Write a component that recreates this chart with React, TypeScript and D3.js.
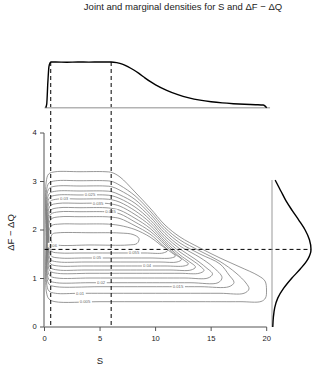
import { useEffect, useRef } from "react";
import * as d3 from "d3";

// marginal density of S (top panel), relative to its plateau
const topS = [0.1, 0.2, 0.3, 0.4, 0.5, 0.6, 1, 2, 3, 4, 5, 6, 6.5, 7, 7.5, 8, 8.5, 9, 9.5, 10, 11, 12, 13, 14, 15, 16, 17, 18, 19, 19.7, 20];
const topDensity = [0, 0.08, 0.55, 0.9, 0.98, 1, 1, 0.995, 1, 0.997, 1, 1, 0.985, 0.955, 0.9, 0.83, 0.75, 0.66, 0.575, 0.5, 0.38, 0.285, 0.215, 0.165, 0.13, 0.105, 0.088, 0.075, 0.066, 0.058, 0];

// marginal density of dF - dQ (right panel), relative to its peak
const rightY = [0, 0.2, 0.4, 0.6, 0.8, 1.0, 1.2, 1.4, 1.6, 1.8, 2.0, 2.2, 2.4, 2.6, 2.8, 3.0, 3.03];
const rightDensity = [0.02, 0.035, 0.07, 0.15, 0.3, 0.5, 0.73, 0.92, 1.0, 0.96, 0.85, 0.69, 0.52, 0.36, 0.23, 0.1, 0.08];

const xTicks = [0, 5, 10, 15, 20];
const yTicks = [0, 1, 2, 3, 4];

const markS = [0.56, 6];
const markY = 1.6;

// contour outlines [S, dF - dQ]
const contour005 = [[0.378, 3.155], [0.945, 3.2], [3.195, 3.202], [5.445, 3.202], [6.076, 3.184], [6.796, 3.093], [8.146, 2.784], [9.496, 2.454], [10.846, 2.103], [12.196, 1.856], [13.996, 1.629], [15.797, 1.423], [17.597, 1.237], [19.217, 1.062], [19.847, 0.948], [19.982, 0.763], [19.892, 0.598], [19.487, 0.526], [17.597, 0.522], [13.996, 0.522], [9.496, 0.522], [4.995, 0.522], [0.945, 0.522], [0.405, 0.577], [0.171, 0.722], [0.135, 1.794], [0.153, 2.99]];
const contour010 = [[0.405, 2.969], [0.99, 3.014], [3.195, 3.016], [5.445, 3.016], [6.076, 3.0], [6.796, 2.921], [8.146, 2.706], [9.496, 2.394], [10.846, 2.045], [12.196, 1.794], [13.996, 1.567], [15.797, 1.351], [17.237, 1.113], [18.137, 0.907], [18.407, 0.784], [17.957, 0.695], [15.797, 0.695], [12.196, 0.695], [7.696, 0.695], [3.195, 0.695], [0.99, 0.695], [0.405, 0.742], [0.189, 0.907], [0.162, 1.856], [0.18, 2.804]];
const contour015 = [[0.432, 2.86], [1.035, 2.905], [3.195, 2.907], [5.445, 2.907], [6.076, 2.891], [6.796, 2.819], [8.146, 2.629], [9.496, 2.334], [10.846, 1.988], [12.196, 1.732], [13.996, 1.505], [15.797, 1.299], [16.607, 1.072], [17.057, 0.918], [16.607, 0.831], [13.996, 0.831], [9.496, 0.831], [4.995, 0.831], [1.035, 0.831], [0.432, 0.876], [0.216, 1.031], [0.189, 1.876], [0.207, 2.701]];
const contour020 = [[0.459, 2.757], [1.08, 2.802], [3.195, 2.804], [5.445, 2.804], [6.076, 2.788], [6.796, 2.723], [8.146, 2.552], [9.496, 2.274], [10.846, 1.93], [12.196, 1.67], [13.996, 1.433], [15.167, 1.237], [15.977, 1.021], [15.617, 0.913], [13.096, 0.913], [8.596, 0.913], [4.095, 0.913], [1.08, 0.913], [0.459, 0.959], [0.243, 1.113], [0.216, 1.856], [0.234, 2.598]];
const contour025 = [[0.486, 2.674], [1.125, 2.72], [3.195, 2.722], [5.445, 2.722], [6.076, 2.705], [6.796, 2.647], [8.146, 2.474], [9.496, 2.214], [10.846, 1.872], [12.196, 1.608], [13.546, 1.402], [14.536, 1.227], [15.122, 1.093], [14.716, 1.01], [12.646, 1.01], [8.146, 1.01], [4.095, 1.01], [1.125, 1.01], [0.486, 1.056], [0.27, 1.216], [0.243, 1.856], [0.261, 2.515]];
const contour030 = [[0.513, 2.592], [1.17, 2.637], [3.195, 2.639], [5.445, 2.639], [6.076, 2.623], [6.796, 2.572], [8.146, 2.397], [9.496, 2.155], [10.846, 1.819], [12.196, 1.546], [13.276, 1.381], [13.996, 1.258], [14.356, 1.165], [13.906, 1.107], [12.196, 1.107], [7.696, 1.107], [4.095, 1.107], [1.17, 1.107], [0.513, 1.153], [0.297, 1.309], [0.27, 1.856], [0.288, 2.433]];
const contour035 = [[0.54, 2.503], [1.215, 2.548], [3.195, 2.551], [5.445, 2.551], [6.076, 2.534], [6.796, 2.491], [8.146, 2.32], [9.496, 2.095], [10.846, 1.769], [12.196, 1.485], [13.006, 1.351], [13.591, 1.237], [13.186, 1.175], [11.296, 1.175], [7.246, 1.175], [3.645, 1.175], [1.215, 1.175], [0.54, 1.221], [0.324, 1.371], [0.297, 1.856], [0.315, 2.351]];
const contour040 = [[0.567, 2.412], [1.26, 2.458], [3.195, 2.46], [5.445, 2.46], [6.076, 2.445], [6.796, 2.407], [8.146, 2.242], [9.496, 2.035], [10.846, 1.728], [12.016, 1.474], [12.601, 1.371], [12.961, 1.299], [12.556, 1.258], [10.846, 1.258], [6.796, 1.258], [3.645, 1.258], [1.26, 1.258], [0.567, 1.299], [0.351, 1.443], [0.324, 1.856], [0.342, 2.278]];
const contour045 = [[0.594, 2.33], [1.305, 2.375], [3.195, 2.377], [5.445, 2.377], [6.076, 2.365], [6.796, 2.332], [8.146, 2.165], [9.496, 1.975], [10.846, 1.691], [11.656, 1.515], [12.331, 1.392], [11.926, 1.34], [10.396, 1.34], [6.346, 1.34], [3.645, 1.34], [1.305, 1.34], [0.594, 1.381], [0.378, 1.515], [0.351, 1.856], [0.369, 2.206]];
const contour050 = [[0.621, 2.231], [1.35, 2.272], [3.195, 2.274], [5.445, 2.274], [6.076, 2.264], [6.796, 2.236], [8.146, 2.088], [9.496, 1.915], [10.666, 1.68], [11.296, 1.557], [11.791, 1.464], [11.386, 1.423], [9.496, 1.423], [6.346, 1.423], [3.645, 1.423], [1.35, 1.423], [0.621, 1.46], [0.405, 1.577], [0.378, 1.856], [0.396, 2.124]];
const contour055 = [[0.648, 2.093], [1.395, 2.123], [3.195, 2.124], [5.445, 2.124], [6.076, 2.115], [6.796, 2.093], [8.146, 2.01], [9.496, 1.856], [10.396, 1.701], [11.071, 1.577], [10.666, 1.526], [9.046, 1.526], [5.896, 1.526], [3.195, 1.526], [1.395, 1.526], [0.648, 1.557], [0.432, 1.67], [0.405, 1.835], [0.423, 2.0]];
const contour060 = [[0.72, 1.918], [1.215, 1.942], [4.095, 1.944], [6.796, 1.938], [7.966, 1.907], [8.506, 1.825], [8.326, 1.722], [7.516, 1.691], [4.095, 1.691], [1.215, 1.687], [0.72, 1.722], [0.567, 1.825]];

const contourLines = [contour005, contour010, contour015, contour020, contour025, contour030, contour035, contour040, contour045, contour050, contour055, contour060];

// contour labels as they sit on the lines
const labelText = ["0.005", "0.01", "0.015", "0.02", "0.04", "0.05", "0.055", "0.06", "0.025", "0.03", "0.035", "0.045"];
const labelS = [3.645, 3.195, 12.016, 5.085, 9.226, 4.725, 8.056, 0.76, 4.095, 1.755, 4.815, 5.94];
const labelY = [0.522, 0.695, 0.831, 0.913, 1.258, 1.423, 1.526, 1.688, 2.722, 2.639, 2.551, 2.377];

const FONT = "'Liberation Sans', Arial, Helvetica, sans-serif";

export default function App() {
  const ref = useRef<HTMLDivElement>(null);

  useEffect(() => {
    document.body.style.margin = "0";
    const container = d3.select(ref.current);
    container.selectAll("*").remove();

    const width = 320;
    const height = 367;

    const svg = container
      .append("svg")
      .attr("width", width)
      .attr("height", height)
      .style("display", "block")
      .style("font-family", FONT);

    svg.append("rect").attr("width", width).attr("height", height).attr("fill", "#fff");

    const x = d3.scaleLinear().domain([0, 20]).range([44.5, 266.7]);
    const y = d3.scaleLinear().domain([0, 4]).range([327, 133]);
    const topY = d3.scaleLinear().domain([0, 1]).range([107.7, 62]);
    const rightX = d3.scaleLinear().domain([0, 1]).range([272, 311]);

    // contours
    const contour = d3
      .line<number[]>()
      .x((d) => x(d[0]))
      .y((d) => y(d[1]))
      .curve(d3.curveCatmullRomClosed.alpha(0.5));

    svg
      .append("g")
      .selectAll("path")
      .data(contourLines)
      .join("path")
      .attr("fill", "none")
      .attr("stroke", "#7d7d7d")
      .attr("stroke-width", 0.8)
      .attr("d", (d) => contour(d));

    // contour labels with a gap in the line
    const labels = svg.append("g");
    labelText.forEach((t, i) => {
      const g = labels.append("g");
      const txt = g
        .append("text")
        .attr("x", x(labelS[i]))
        .attr("y", y(labelY[i]))
        .attr("dy", "0.35em")
        .attr("text-anchor", "middle")
        .attr("fill", "#666")
        .style("font-size", "4.2px")
        .text(t);
      const bb = (txt.node() as SVGTextElement).getBBox();
      g.insert("rect", "text")
        .attr("x", bb.x - 1)
        .attr("y", y(labelY[i]) - 2.3)
        .attr("width", bb.width + 2)
        .attr("height", 4.6)
        .attr("fill", "#fff");
    });

    // dashed reference lines
    svg
      .append("g")
      .selectAll("line")
      .data(markS)
      .join("line")
      .attr("x1", (d) => x(d))
      .attr("x2", (d) => x(d))
      .attr("y1", topY(1))
      .attr("y2", y(0))
      .attr("stroke", "#000")
      .attr("stroke-width", 1)
      .attr("stroke-dasharray", "4,3");

    svg
      .append("line")
      .attr("x1", x(0))
      .attr("x2", rightX(1))
      .attr("y1", y(markY))
      .attr("y2", y(markY))
      .attr("stroke", "#000")
      .attr("stroke-width", 1)
      .attr("stroke-dasharray", "4,3");

    // axes
    const fmt = d3.format("d");
    const xAxis = svg
      .append("g")
      .attr("transform", `translate(0,${y(0)})`)
      .call(d3.axisBottom(x).tickValues(xTicks).tickFormat(fmt).tickSize(4).tickSizeOuter(0).tickPadding(4.5).offset(0));
    const yAxis = svg
      .append("g")
      .attr("transform", `translate(${x(0) - 0.5},0)`)
      .call(d3.axisLeft(y).tickValues(yTicks).tickFormat(fmt).tickSize(4).tickSizeOuter(0).tickPadding(3.3).offset(0));
    [xAxis, yAxis].forEach((a) => {
      a.select(".domain").attr("stroke", "#555");
      a.selectAll(".tick line").attr("stroke", "#555");
      a.selectAll(".tick text")
        .attr("fill", "#1a1a1a")
        .style("font-size", "7.6px")
        .style("font-family", FONT);
    });

    // top marginal
    svg
      .append("line")
      .attr("x1", x(0))
      .attr("x2", x(20.3))
      .attr("y1", topY(0))
      .attr("y2", topY(0))
      .attr("stroke", "#b3b3b3")
      .attr("stroke-width", 1.5);

    const topLine = d3
      .line<number>()
      .x((_, i) => x(topS[i]))
      .y((d) => topY(d))
      .curve(d3.curveMonotoneX);

    svg
      .append("path")
      .datum(topDensity)
      .attr("fill", "none")
      .attr("stroke", "#000")
      .attr("stroke-width", 1.4)
      .attr("d", topLine);

    // right marginal
    svg
      .append("line")
      .attr("x1", rightX(0))
      .attr("x2", rightX(0))
      .attr("y1", y(0))
      .attr("y2", y(rightY[rightY.length - 1]))
      .attr("stroke", "#999")
      .attr("stroke-width", 1);

    const rightLine = d3
      .line<number>()
      .x((d) => rightX(d))
      .y((_, i) => y(rightY[i]))
      .curve(d3.curveMonotoneY);

    svg
      .append("path")
      .datum(rightDensity)
      .attr("fill", "none")
      .attr("stroke", "#000")
      .attr("stroke-width", 1.4)
      .attr("d", rightLine);

    // titles
    svg
      .append("text")
      .attr("x", 183)
      .attr("y", 10)
      .attr("text-anchor", "middle")
      .attr("fill", "#222")
      .style("font-size", "9.5px")
      .text("Joint and marginal densities for S and \u0394F \u2212 \u0394Q");

    svg
      .append("text")
      .attr("x", 100)
      .attr("y", 364.3)
      .attr("text-anchor", "middle")
      .attr("fill", "#222")
      .style("font-size", "9.5px")
      .text("S");

    svg
      .append("text")
      .attr("transform", "translate(13.5,232.5) rotate(-90)")
      .attr("text-anchor", "middle")
      .attr("fill", "#222")
      .style("font-size", "9.5px")
      .text("\u0394F \u2212 \u0394Q");
  }, []);

  return <div ref={ref} />;
}
